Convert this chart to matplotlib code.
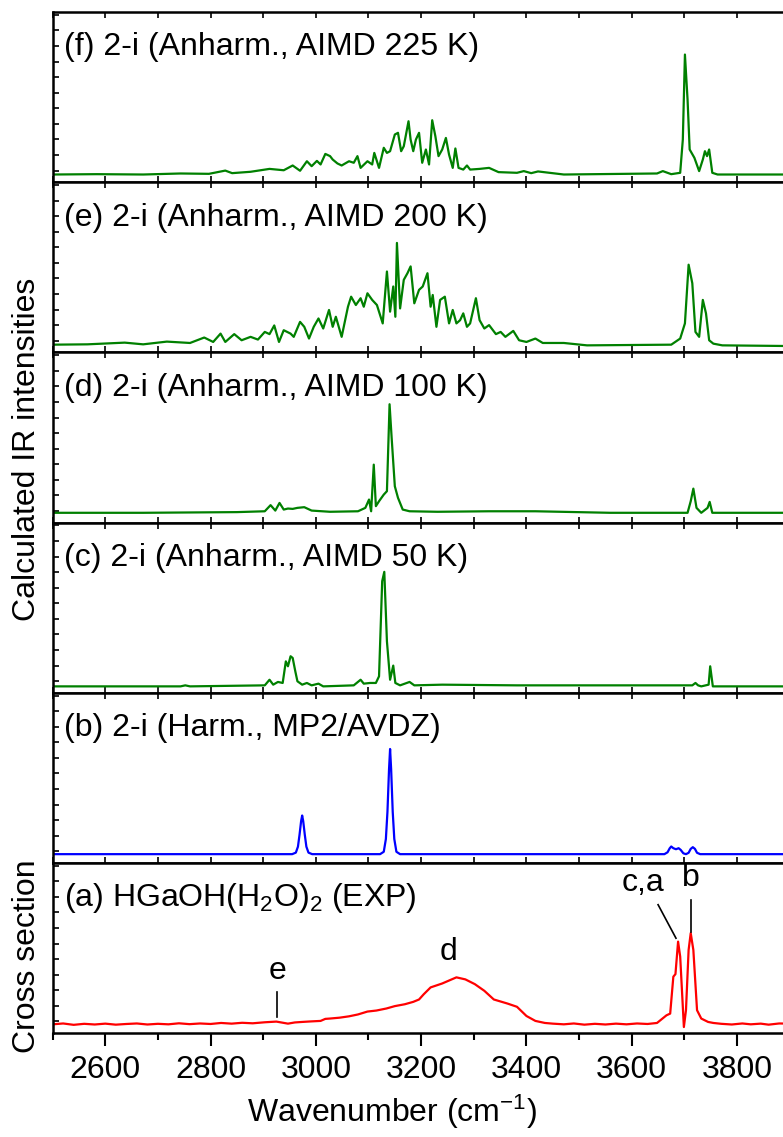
import numpy as np
import matplotlib
matplotlib.use("Agg")
import matplotlib.pyplot as plt

plt.rcParams['font.family'] = ['Liberation Sans', 'DejaVu Sans']
plt.rcParams['mathtext.fontset'] = 'custom'
plt.rcParams['mathtext.rm'] = 'Liberation Sans'
plt.rcParams['mathtext.default'] = 'regular'

# ---- spectra (wavenumber in cm-1, intensity in arbitrary units) ----
f_x = [2500, 2584, 2672, 2743, 2797, 2828, 2841, 2876, 2912, 2939, 2956, 2970, 2983, 2992,
       3002, 3009, 3018, 3027, 3032, 3041, 3049, 3063, 3072, 3079, 3085, 3098, 3107, 3111,
       3120, 3129, 3135, 3141, 3150, 3156, 3162, 3167, 3176, 3180, 3185, 3190, 3196, 3202,
       3209, 3215, 3221, 3227, 3233, 3240, 3247, 3253, 3260, 3265, 3271, 3280, 3287, 3293,
       3311, 3329, 3347, 3382, 3395, 3409, 3422, 3471, 3648, 3659, 3675, 3692, 3697, 3701,
       3706, 3710, 3719, 3728, 3735, 3739, 3743, 3747, 3753, 3763, 3900]
f_y = [4.5, 4.7, 4.5, 5.1, 4.9, 6.8, 5.3, 6.1, 7.8, 7.0, 9.8, 6.7, 12.3, 9.4,
       12.5, 10.4, 16.6, 15.3, 13.3, 11.0, 9.8, 12.3, 11.4, 15.3, 8.4, 12.3, 10.4, 17.2,
       8.4, 20.2, 17.2, 18.2, 28.0, 29.0, 18.2, 21.1, 35.8, 25.0, 18.2, 25.0, 29.0, 11.4,
       19.2, 10.4, 36.4, 27.0, 15.3, 19.2, 26.0, 16.2, 8.4, 19.8, 8.4, 7.4, 9.8, 7.4,
       7.8, 8.4, 5.9, 5.5, 6.5, 5.3, 6.3, 4.5, 5.1, 6.5, 4.7, 5.5, 25.0, 75.0,
       48.5, 19.2, 14.3, 6.5, 13.3, 18.2, 15.3, 19.2, 5.5, 4.5, 4.5]

e_x = [2500, 2566, 2637, 2672, 2717, 2761, 2788, 2805, 2819, 2828, 2845, 2859, 2876, 2890,
       2903, 2912, 2921, 2930, 2939, 2952, 2958, 2970, 2978, 2987, 2996, 3005, 3014, 3025,
       3032, 3038, 3049, 3061, 3067, 3076, 3085, 3091, 3098, 3107, 3116, 3127, 3135, 3141,
       3147, 3151, 3154, 3160, 3167, 3174, 3180, 3187, 3196, 3203, 3212, 3218, 3222, 3229,
       3236, 3245, 3253, 3260, 3267, 3274, 3280, 3287, 3293, 3304, 3311, 3320, 3329, 3342,
       3351, 3360, 3375, 3386, 3400, 3417, 3431, 3471, 3515, 3675, 3692, 3701, 3708, 3715,
       3721, 3728, 3735, 3741, 3747, 3755, 3772, 3900]
e_y = [4.5, 4.7, 5.7, 4.7, 6.3, 5.5, 8.7, 6.1, 11.0, 6.1, 10.7, 7.1, 9.1, 7.5,
       12.0, 10.7, 15.8, 6.1, 13.0, 11.0, 9.1, 17.9, 15.0, 8.1, 15.0, 19.9, 14.0, 24.9,
       15.0, 20.9, 9.1, 26.8, 32.7, 27.8, 31.8, 26.8, 34.7, 30.8, 27.8, 17.0, 47.5, 23.9,
       38.7, 20.9, 64.3, 25.8, 42.6, 46.5, 50.5, 28.8, 36.7, 38.7, 46.5, 26.8, 33.7, 15.0,
       30.8, 32.7, 17.0, 24.9, 17.0, 18.9, 22.9, 15.0, 17.0, 31.8, 18.9, 14.0, 16.0, 10.7,
       12.0, 9.1, 12.6, 7.1, 6.1, 8.1, 5.5, 5.5, 4.1, 4.5, 8.1, 17.0, 51.5, 40.6,
       12.0, 9.1, 30.8, 22.9, 7.1, 5.1, 4.1, 3.7]

d_x = [2500, 2672, 2850, 2903, 2914, 2923, 2931, 2939, 2947, 2956, 2965, 2978, 2992, 3027,
       3080, 3094, 3101, 3105, 3110, 3114, 3120, 3129, 3135, 3140, 3144, 3150, 3156, 3165,
       3178, 3231, 3329, 3417, 3559, 3706, 3712, 3717, 3723, 3732, 3744, 3748, 3753, 3900]
d_y = [5.7, 5.7, 6.1, 6.6, 10.2, 7.0, 11.5, 7.6, 8.2, 8.0, 8.6, 9.0, 7.0, 6.3,
       6.6, 8.6, 13.5, 6.6, 34.0, 9.6, 12.5, 16.4, 18.4, 69.5, 49.6, 21.3, 14.5, 7.6,
       6.6, 6.3, 6.6, 6.6, 5.7, 5.7, 12.5, 19.9, 8.6, 5.7, 8.6, 12.1, 5.7, 5.7]

c_x = [2500, 2743, 2752, 2761, 2903, 2912, 2919, 2928, 2937, 2943, 2947, 2952, 2956, 2961,
       2965, 2974, 2983, 2992, 3005, 3014, 3072, 3085, 3091, 3103, 3114, 3120, 3126, 3130,
       3135, 3141, 3147, 3151, 3160, 3178, 3187, 3240, 3382, 3715, 3721, 3726, 3732, 3746,
       3749, 3754, 3900]
c_y = [3.7, 3.7, 4.3, 3.7, 4.3, 7.6, 4.7, 6.3, 5.7, 18.4, 15.5, 21.4, 20.4, 12.5,
       6.7, 4.7, 5.7, 4.3, 5.3, 3.7, 4.3, 7.6, 5.3, 5.7, 5.7, 9.6, 65.5, 71.0,
       30.2, 7.6, 15.9, 5.7, 4.3, 6.3, 4.3, 4.7, 4.3, 4.3, 5.7, 4.3, 3.7, 4.7,
       15.5, 3.7, 3.7]

b_x = [2500, 2955, 2962, 2966, 2969, 2972, 2974, 2976, 2979, 2982, 2986, 2993,
       3122, 3129, 3133, 3136, 3139, 3141, 3143, 3146, 3149, 3153, 3160,
       3662, 3668, 3672, 3675, 3679, 3684, 3689, 3693, 3698, 3703, 3708, 3712, 3716,
       3720, 3724, 3730, 3900]
b_y = [5.1, 5.1, 6.0, 9.5, 16.5, 24.5, 27.8, 24.5, 16.5, 9.5, 6.0, 5.1,
       5.1, 6.5, 14.0, 30.0, 55.0, 66.9, 55.0, 30.0, 14.0, 6.5, 5.1,
       5.1, 6.2, 8.5, 9.6, 8.6, 8.0, 8.6, 7.6, 5.6, 5.1, 5.9, 8.2, 9.2,
       8.2, 5.9, 5.1, 5.1]

a_x = [2500, 2520, 2540, 2560, 2580, 2600, 2620, 2640, 2660, 2680, 2700, 2720, 2740, 2760,
       2780, 2800, 2820, 2840, 2860, 2880, 2903, 2925, 2947, 2960, 2974, 2990, 3009, 3018,
       3027, 3045, 3063, 3080, 3098, 3115, 3134, 3150, 3169, 3185, 3196, 3205, 3218, 3240,
       3267, 3284, 3302, 3320, 3338, 3364, 3382, 3400, 3417, 3435, 3450, 3471, 3490, 3510,
       3530, 3550, 3570, 3590, 3610, 3630, 3648, 3666, 3673, 3679, 3683, 3688, 3692, 3697,
       3699, 3703, 3708, 3712, 3717, 3724, 3732, 3745, 3755, 3770, 3790, 3810, 3826, 3845,
       3860, 3880, 3900]
a_y = [5.1, 5.6, 4.8, 5.4, 5.0, 5.5, 4.9, 5.3, 5.6, 5.0, 5.4, 5.1, 5.7, 5.2,
       5.6, 5.3, 5.9, 5.5, 6.0, 5.7, 6.3, 6.7, 5.5, 6.2, 6.5, 6.8, 7.1, 8.3,
       8.5, 9.0, 9.8, 10.9, 12.6, 13.2, 14.4, 15.8, 16.9, 18.3, 19.7, 22.8, 26.8, 29.1,
       32.7, 31.5, 28.7, 24.8, 19.7, 17.3, 15.4, 10.0, 7.1, 5.9, 5.5, 5.1, 5.6, 4.9,
       5.4, 5.0, 5.5, 5.1, 5.6, 5.3, 5.9, 10.4, 11.4, 33.1, 34.6, 53.7, 44.9, 15.4,
       3.5, 13.4, 48.8, 58.7, 48.8, 13.4, 8.5, 6.5, 5.9, 5.4, 5.0, 5.6, 5.1, 5.5,
       4.9, 5.6, 5.5]

panel_labels = ["(f) 2-i (Anharm., AIMD 225 K)",
                "(e) 2-i (Anharm., AIMD 200 K)",
                "(d) 2-i (Anharm., AIMD 100 K)",
                "(c) 2-i (Anharm., AIMD 50 K)",
                "(b) 2-i (Harm., MP2/AVDZ)",
                "(a) HGaOH(H$_2$O)$_2$ (EXP)"]

# peak assignments in the experimental panel: (text, x, y)
peak_labels = [("e", 2927, 32.0), ("d", 3251, 42.9), ("c,a", 3621, 83.3), ("b", 3713, 86.2)]
peak_lines = [((2926, 2926), (24.2, 9.4)), ((3650, 3684), (75.4, 55.7)), ((3713, 3713), (78.0, 59.6))]

xticks = [2600, 2800, 3000, 3200, 3400, 3600, 3800]

green = "#008000"
spectra = [(f_x, f_y, green), (e_x, e_y, green), (d_x, d_y, green),
           (c_x, c_y, green), (b_x, b_y, "#0000ff"), (a_x, a_y, "#ff0000")]

fig, axes = plt.subplots(6, 1, sharex=True, figsize=(7.83, 11.37), dpi=100)
fig.subplots_adjust(left=52.6 / 783, right=789.7 / 783, top=1 - 12 / 1137,
                    bottom=1 - 1033 / 1137, hspace=0)

for i, ax in enumerate(axes):
    xs, ys, col = spectra[i]
    ax.plot(xs, ys, color=col, lw=1.6)
    ax.set_xlim(2500, 3900)
    ax.set_ylim(0, 100)
    ax.text(0.0155, 0.745, panel_labels[i], transform=ax.transAxes,
            fontsize=23, va="baseline", ha="left")
    for s in ax.spines.values():
        s.set_linewidth(1.8)
    ax.set_yticks(np.arange(6.8, 100, 9.15))
    ax.tick_params(axis="y", direction="in", length=4, width=1.2, labelleft=False)
    ax.set_xticks(xticks)
    ax.set_xticks(np.arange(2500, 3901, 100), minor=True)
    if i < 5:
        ax.tick_params(axis="x", which="both", direction="in", top=True, bottom=True,
                       length=4, width=1.2, labelbottom=False)
    else:
        ax.tick_params(axis="x", which="major", direction="out", length=9.5, width=1.5,
                       labelsize=23, pad=6)
        ax.tick_params(axis="x", which="minor", direction="out", length=5, width=1.5)

ax = axes[5]
for t, x, y in peak_labels:
    ax.text(x, y, t, fontsize=23, ha="center", va="baseline")
for lx, ly in peak_lines:
    ax.plot(lx, ly, color="k", lw=1.2)

fig.text(0.5, 1 - 1112 / 1137, "Wavenumber (cm$^{\\mathregular{-1}}$)", fontsize=23,
         ha="center", va="center")
fig.text(27 / 783, 1 - 449 / 1137, "Calculated IR intensities", fontsize=23,
         rotation=90, ha="center", va="center")
fig.text(27 / 783, 1 - 956 / 1137, "Cross section", fontsize=23,
         rotation=90, ha="center", va="center")

fig.savefig("out.png", dpi=100)
